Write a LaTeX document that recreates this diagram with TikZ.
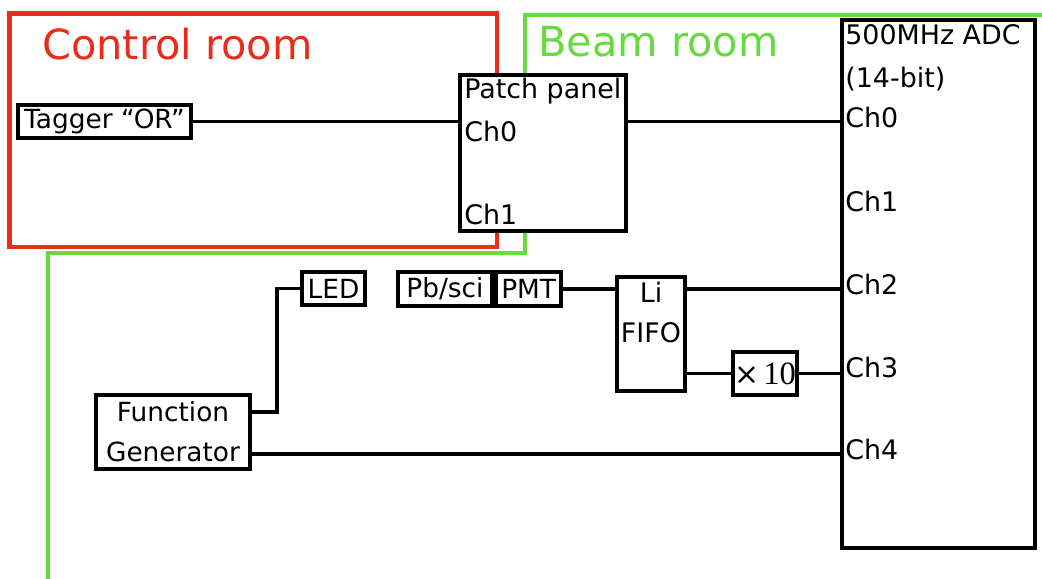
\documentclass[tikz,border=0pt]{standalone}
\usepackage{fontspec}
\setmainfont{DejaVu Sans}
\newfontfamily\gainfont{Liberation Serif}
\usetikzlibrary{positioning}
\definecolor{ctrlred}{RGB}{234,44,28}
\definecolor{beamgreen}{RGB}{102,218,62}
\tikzset{
  roomctrl/.style={draw=ctrlred, line width=2.3pt},
  roombeam/.style={draw=beamgreen, line width=2.3pt},
  roomlabel/.style={anchor=base west, inner sep=0pt, font=\fontsize{23.6}{28}\selectfont},
  unit/.style={draw=black, fill=white, line width=2.4pt, inner sep=0pt, align=center, font=\fontsize{15}{22.7}\selectfont},
  unitlabel/.style={anchor=base west, inner sep=0pt, font=\fontsize{15.3}{18}\selectfont},
  unittext/.style={anchor=base, inner sep=0pt, font=\fontsize{15.3}{18}\selectfont},
  wire/.style={draw=black, line width=2.1pt},
}

\begin{document}
\begin{tikzpicture}
\useasboundingbox (0,0) rectangle (20.84,11.58);
\draw[roomctrl] (0.190,6.640) rectangle (9.940,11.310);
\draw[roombeam] (20.840,11.280) -- (10.500,11.280) -- (10.500,6.520) -- (0.960,6.520) -- (0.960,0);
\node[roomlabel, text=ctrlred] (ctrltitle) at (0.840,10.380) {Control room};
\node[roomlabel, text=beamgreen] (beamtitle) at (10.760,10.440) {Beam room};
\node[unit, minimum width=3.46cm, minimum height=0.66cm] (tagger) at (2.090,9.150) {Tagger “OR”};
\node[unit, minimum width=3.32cm, minimum height=3.12cm] (patch) at (10.860,8.525) {};
\node[unitlabel] (patchname) at (9.280,9.600) {Patch panel};
\node[unitlabel] (patchch0) at (9.280,8.740) {Ch0};
\node[unitlabel] (patchch1) at (9.280,7.080) {Ch1};
\node[unit, minimum width=3.86cm, minimum height=10.56cm] (adc) at (18.770,5.900) {};
\node[unitlabel] (adcname) at (16.900,10.680) {500MHz ADC};
\node[unitlabel] (adcbits) at (16.900,9.820) {(14-bit)};
\node[unitlabel] (adcch0) at (16.900,9.020) {Ch0};
\node[unitlabel] (adcch1) at (16.900,7.340) {Ch1};
\node[unitlabel] (adcch2) at (16.900,5.680) {Ch2};
\node[unitlabel] (adcch3) at (16.900,4.020) {Ch3};
\node[unitlabel] (adcch4) at (16.900,2.380) {Ch4};
\node[unit, minimum width=1.26cm, minimum height=0.66cm] (led) at (6.670,5.810) {LED};
\node[unit, minimum width=1.88cm, minimum height=0.68cm] (pbsci) at (8.900,5.800) {Pb/sci};
\node[unit, minimum width=1.30cm, minimum height=0.68cm, right=0pt of pbsci] (pmt) {PMT};
\node[unit, minimum width=1.36cm, minimum height=2.28cm] (fifo) at (13.020,4.900) {};
\node[unittext] (fifotop) at (13.020,5.520) {Li};
\node[unittext] (fifobottom) at (13.020,4.720) {FIFO};
\node[unit, minimum width=1.28cm, minimum height=0.86cm] (gain) at (15.300,4.110) {{\fontsize{17}{20}\selectfont ×}\,{\gainfont\fontsize{18.5}{20}\selectfont 10}};
\node[unit, minimum width=3.08cm, minimum height=1.48cm] (fgen) at (3.460,2.940) {Function\\Generator};
\coordinate (fgenled) at ([yshift=0.4cm]fgen.east);
\coordinate (fgenadc) at ([yshift=-0.44cm]fgen.east);
\draw[wire] (tagger) -- (patch.west |- tagger);
\draw[wire] (patch.east |- tagger) -- (adc.west |- tagger);
\draw[wire] (pmt) -- (fifo.west |- pmt);
\draw[wire] (fifo.east |- pmt) -- (adc.west |- pmt);
\draw[wire] (fifo.east |- gain) -- (gain);
\draw[wire] (gain) -- (adc.west |- gain);
\draw[wire] (fgenled) -- ++(0.5,0) |- (led);
\draw[wire] (fgenadc) -- (fgenadc -| adc.west);
\end{tikzpicture}
\end{document}
